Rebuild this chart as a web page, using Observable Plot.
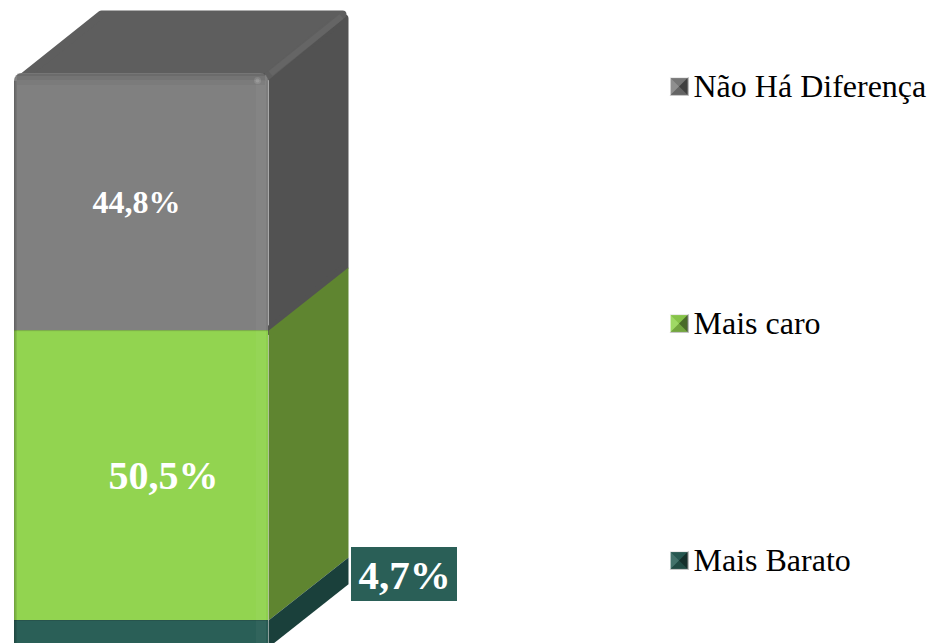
<!DOCTYPE html>
<html>
<head>
<meta charset="utf-8">
<style>html,body{margin:0;padding:0;background:#fff;overflow:hidden}</style>
<script src="https://cdn.jsdelivr.net/npm/d3@7"></script>
<script src="https://cdn.jsdelivr.net/npm/@observablehq/plot@0.6"></script>
</head>
<body>
<div id="chart"></div>
<script>
const categories = ["Mais Barato", "Mais caro", "Não Há Diferença"];
const values = [4.7, 50.5, 44.8];
const valueLabels = ["4,7%", "50,5%", "44,8%"];
const frontColors = ["#2a5f57", "#92d450", "#808080"];
const sideColors = ["#1a403b", "#5f8530", "#525252"];

const X = p => (p - 14) / 254, Y = p => (647 - p) / 5.74;
const dx = X(348) - 1, dy = 11;
const ends = d3.cumsum(values);
const segs = categories.map((c, i) => ({c, i, y1: i ? ends[i - 1] : 0, y2: ends[i]}));

const face = pts => pts.map(([x, y]) => ({x, y}));
const side = s => face([[1, s.y1], [1 + dx, s.y1 + dy], [1 + dx, s.y2 + dy], [1, s.y2]]);
const tri = f => ({draw(ctx, size) { const r = Math.sqrt(size / Math.PI); f(ctx, r); ctx.closePath(); }});
const swatchFaces = [
  {symbol: tri((c, r) => {c.moveTo(-r, -r); c.lineTo(r, -r); c.lineTo(0, 0);}), o: "#000", a: 0.08},
  {symbol: tri((c, r) => {c.moveTo(r, -r); c.lineTo(r, r); c.lineTo(0, 0);}), o: "#000", a: 0.5},
  {symbol: tri((c, r) => {c.moveTo(r, r); c.lineTo(-r, r); c.lineTo(0, 0);}), o: "#000", a: 0.22},
  {symbol: tri((c, r) => {c.moveTo(-r, r); c.lineTo(-r, -r); c.lineTo(0, 0);}), o: "#fff", a: 0.12}
];
const legendY = [Y(560), Y(323), Y(86)];
const legend = categories.map((c, i) => ({c, i, y: legendY[i]}));
const serif = "'Liberation Serif','Times New Roman',serif";

const chart = Plot.plot({
  width: 930, height: 643, margin: 0,
  x: {domain: [0, 1], range: [14, 268], axis: null},
  y: {domain: [0, 100], range: [647, 73], axis: null},
  style: {background: "#fff"},
  marks: [
    // right side faces, top first
    Plot.line(face([[1, segs[2].y1], [X(344), segs[2].y1 + dy], [X(344), Y(18)], [1, 100]]), {x: "x", y: "y", fill: sideColors[2], stroke: sideColors[2], strokeWidth: 8}),
    Plot.line(side(segs[1]), {x: "x", y: "y", fill: sideColors[1]}),
    Plot.line(side(segs[0]), {x: "x", y: "y", fill: sideColors[0]}),
    // top face
    Plot.line(face([[X(22), Y(77)], [X(101), Y(14)], [X(342), Y(14)], [X(265), Y(77)], [X(22), Y(77)]]), {x: "x", y: "y", fill: "#5e5e5e", stroke: "#5e5e5e", strokeWidth: 8}),
    Plot.line(face([[X(270), Y(73)], [X(341), Y(16)]]), {x: "x", y: "y", stroke: "#666", strokeWidth: 6, strokeOpacity: 0.9, strokeLinecap: "butt"}),
    // front faces, top one first so the lower one covers its bottom corners
    Plot.rect([segs[2]], {x1: 0, x2: 1, y1: d => d.y1 - 3, y2: "y2", fill: frontColors[2], r: 8}),
    Plot.rect([segs[1], segs[0]], {x1: 0, x2: 1, y1: "y1", y2: "y2", fill: d => frontColors[d.i]}),
    // bevels
    Plot.rect(segs, {x1: X(256), x2: X(266), y1: "y1", y2: d => d.i === 2 ? Y(81) : d.y2, fill: "#fff", fillOpacity: 0.035}),
    Plot.rect(segs, {x1: X(266), x2: 1, y1: "y1", y2: d => d.i === 2 ? Y(81) : d.y2, fill: "#000", fillOpacity: 0.025}),
    Plot.rect(segs, {x1: X(14), x2: X(15.5), y1: "y1", y2: d => d.i === 2 ? Y(81) : d.y2, fill: "#000", fillOpacity: 0.22}),
    Plot.rect(segs, {x1: X(15.5), x2: X(17), y1: "y1", y2: d => d.i === 2 ? Y(81) : d.y2, fill: "#000", fillOpacity: 0.09}),
    Plot.rect(segs.slice(0, 2), {x1: 0, x2: 1, y1: d => d.y2 - 0.17, y2: "y2", fill: "#000", fillOpacity: 0.15}),
    Plot.rect([segs[2]], {x1: X(17), x2: X(265), y1: Y(76), y2: Y(73.5), fill: "#000", fillOpacity: 0.16}),
    Plot.rect([segs[2]], {x1: X(17), x2: X(265), y1: Y(80), y2: Y(76), fill: "#000", fillOpacity: 0.09}),
    Plot.rect([segs[2]], {x1: X(17), x2: X(265), y1: Y(85), y2: Y(80), fill: "#000", fillOpacity: 0.04}),
    Plot.dot([segs[2]], {x: X(257), y: Y(80), r: 3.5, fill: "#fff", fillOpacity: 0.12}),
    Plot.dot([segs[2]], {x: X(257), y: Y(80), r: 2, fill: "#fff", fillOpacity: 0.12}),
    // value labels
    Plot.text([segs[2]], {x: X(136), y: Y(202), text: d => valueLabels[d.i], fill: "#fff", fontFamily: serif, fontWeight: "bold", fontSize: 32}),
    Plot.text([segs[1]], {x: X(163), y: Y(476), text: d => valueLabels[d.i], fill: "#fff", fontFamily: serif, fontWeight: "bold", fontSize: 40}),
    Plot.rect([segs[0]], {x1: X(351), x2: X(457), y1: Y(601), y2: Y(547), fill: frontColors[0]}),
    Plot.text([segs[0]], {x: X(404), y: Y(575), text: d => valueLabels[d.i], fill: "#fff", fontFamily: serif, fontWeight: "bold", fontSize: 41}),
    // legend
    Plot.dot(legend, {x: X(678.5), y: "y", r: 9.5, symbol: "square", fill: d => frontColors[d.i]}),
    ...swatchFaces.map(f => Plot.dot(legend, {x: X(678.5), y: "y", r: 9.5, symbol: f.symbol, fill: f.o, fillOpacity: f.a})),
    Plot.text(legend, {x: X(693), y: "y", text: "c", textAnchor: "start", fill: "#000", fontFamily: serif, fontSize: 32})
  ]
});
document.getElementById("chart").appendChild(chart);
</script>
</body>
</html>
